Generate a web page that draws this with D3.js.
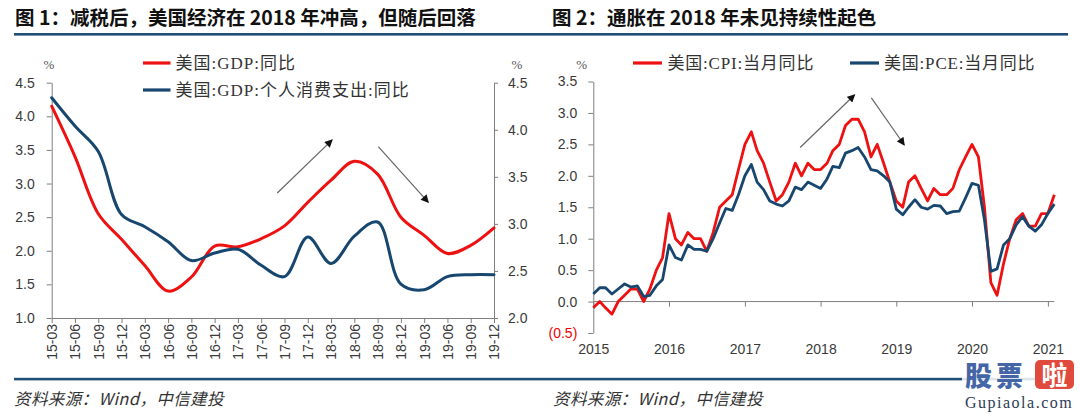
<!DOCTYPE html>
<html><head><meta charset="utf-8">
<script src="https://cdn.jsdelivr.net/npm/d3@7"></script>
<style>
html,body{margin:0;padding:0;background:#fff;}
svg{display:block;}
</style></head><body>
<svg id="c" width="1080" height="415"></svg>
<script>
// ---------- data ----------
const quarterLabels = ["15-03","15-06","15-09","15-12","16-03","16-06","16-09","16-12","17-03","17-06","17-09","17-12","18-03","18-06","18-09","18-12","19-03","19-06","19-09","19-12"];
const gdpYoY    = [4.15,3.40,2.55,2.17,1.78,1.40,1.61,2.07,2.06,2.18,2.37,2.72,3.05,3.33,3.14,2.50,2.23,1.96,2.08,2.34];
const pceGdpYoY = [4.34,4.04,3.77,3.10,2.97,2.81,2.61,2.69,2.73,2.56,2.44,2.86,2.58,2.87,3.02,2.36,2.30,2.44,2.46,2.46];
const leftTicksL = [1.0,1.5,2.0,2.5,3.0,3.5,4.0,4.5];
const leftTicksR = [2.0,2.5,3.0,3.5,4.0,4.5];

const cpiYoY = [-0.1,0.0,-0.1,-0.2,0.0,0.1,0.2,0.2,0.0,0.2,0.5,0.7,
  1.4,1.0,0.9,1.1,1.0,1.0,0.8,1.1,1.5,1.6,1.7,2.1,
  2.5,2.7,2.4,2.2,1.9,1.6,1.7,1.9,2.2,2.0,2.2,2.1,
  2.1,2.2,2.4,2.5,2.8,2.9,2.9,2.7,2.3,2.5,2.2,1.9,
  1.6,1.5,1.9,2.0,1.8,1.6,1.8,1.7,1.7,1.8,2.1,2.3,
  2.5,2.3,1.5,0.3,0.1,0.6,1.0,1.3,1.4,1.2,1.2,1.4,
  1.4,1.7];
const pceYoY = [0.12,0.22,0.22,0.12,0.20,0.28,0.23,0.25,0.08,0.10,0.25,0.35,
  0.90,0.70,0.66,0.90,0.83,0.83,0.80,1.00,1.25,1.48,1.45,1.70,
  2.00,2.18,1.90,1.78,1.60,1.55,1.52,1.60,1.82,1.78,1.90,1.85,
  1.80,1.95,2.15,2.13,2.36,2.40,2.45,2.30,2.10,2.08,2.00,1.90,
  1.47,1.38,1.50,1.62,1.50,1.47,1.53,1.52,1.40,1.43,1.44,1.65,
  1.88,1.85,1.30,0.48,0.52,0.90,1.00,1.22,1.35,1.20,1.12,1.22,
  1.40,1.55];
const yearLabels = [2015,2016,2017,2018,2019,2020,2021];
const rightTicks = [-0.5,0.0,0.5,1.0,1.5,2.0,2.5,3.0,3.5];

// arrows in data space: [x0,y0,x1,y1]
const leftArrows  = [[9.69,2.86,12.05,3.65],[14.03,3.55,16.18,2.72]];
const rightArrows = [[2017.73,2.45,2018.45,3.29],[2018.67,3.24,2019.105,2.49]];

// ---------- style ----------
const RED = "#ee1111", BLUE = "#17466e", RULE = "#1f4e79";
const AXIS = "#7f7f7f", LABEL = "#3a3a3a";
const SANS = "'Liberation Sans', Arial, sans-serif";
const CJK = "'Noto Sans CJK SC', 'Noto Sans', sans-serif";
const LEG = "'Liberation Serif', 'Noto Sans CJK SC', serif";

const svg = d3.select("#c");

// titles & rules
svg.append("text").attr("x",15).attr("y",25).text("图 1：减税后，美国经济在 2018 年冲高，但随后回落")
  .attr("font-family",CJK).attr("font-weight",700).attr("font-size",19.5).attr("fill","#111");
svg.append("text").attr("x",552).attr("y",25).text("图 2：通胀在 2018 年未见持续性起色")
  .attr("font-family",CJK).attr("font-weight",700).attr("font-size",19.5).attr("fill","#111");
svg.append("rect").attr("x",14).attr("y",33).attr("width",1054).attr("height",2.6).attr("fill",RULE);
svg.append("rect").attr("x",14).attr("y",377.8).attr("width",1054).attr("height",2.6).attr("fill",RULE);
[14,553].forEach(x=>{
  svg.append("text").attr("x",x).attr("y",405).text("资料来源：Wind，中信建投")
    .attr("font-family",CJK).attr("font-style","italic").attr("font-size",16.5).attr("letter-spacing",0.4).attr("fill","#333");
});

function styleAxis(g){
  g.select(".domain").attr("stroke",AXIS);
  g.selectAll(".tick line").attr("stroke",AXIS);
  g.selectAll("text").attr("fill",LABEL).attr("font-family",SANS).attr("font-size",14);
}

// marker
const defs = svg.append("defs");
defs.append("marker").attr("id","ah").attr("viewBox","0 0 10 10").attr("refX",9).attr("refY",5)
  .attr("markerWidth",9).attr("markerHeight",8).attr("markerUnits","userSpaceOnUse").attr("orient","auto")
  .append("path").attr("d","M0,0 L10,5 L0,10 Z").attr("fill","#111");

// ---------- left chart ----------
const xL = d3.scalePoint().domain(quarterLabels).range([51.7,494]);
const xLi = d3.scaleLinear().domain([0,quarterLabels.length-1]).range(xL.range());
const yL = d3.scaleLinear().domain([1,4.5]).range([318,82.7]);
const yR = d3.scaleLinear().domain([2,4.5]).range([318,82.7]);

const gxL = svg.append("g").attr("transform",`translate(0,${yL(1)})`)
  .call(d3.axisBottom(xL).tickSize(5).tickSizeOuter(0));
styleAxis(gxL);
gxL.selectAll("text").attr("transform","rotate(-90)").attr("text-anchor","end")
  .attr("x",-6).attr("y",0).attr("dy","0.35em");

const gyL = svg.append("g").attr("transform",`translate(${xL.range()[0]},0)`)
  .call(d3.axisLeft(yL).tickValues(leftTicksL).tickFormat(d3.format(".1f")).tickSize(5).tickPadding(12).tickSizeOuter(0));
styleAxis(gyL);
const gyR = svg.append("g").attr("transform",`translate(${xL.range()[1]},0)`)
  .call(d3.axisRight(yR).tickValues(leftTicksR).tickFormat(d3.format(".1f")).tickSize(4).tickPadding(10).tickSizeOuter(0));
styleAxis(gyR);

svg.append("text").attr("x",49).attr("y",69).attr("text-anchor","middle").text("%")
  .attr("font-family",LEG).attr("font-size",13).attr("fill","#555");
svg.append("text").attr("x",517).attr("y",69).attr("text-anchor","middle").text("%")
  .attr("font-family",LEG).attr("font-size",13).attr("fill","#555");

const lineL = d3.line().x((d,i)=>xLi(i)).y(d=>yL(d)).curve(d3.curveCatmullRom.alpha(0.5));
const lineR = d3.line().x((d,i)=>xLi(i)).y(d=>yR(d)).curve(d3.curveCatmullRom.alpha(0.5));
svg.append("path").attr("d",lineL(gdpYoY)).attr("fill","none").attr("stroke",RED).attr("stroke-width",3).attr("stroke-linecap","round");
svg.append("path").attr("d",lineR(pceGdpYoY)).attr("fill","none").attr("stroke",BLUE).attr("stroke-width",3).attr("stroke-linecap","round");

leftArrows.forEach(a=>{
  svg.append("line").attr("x1",xLi(a[0])).attr("y1",yL(a[1])).attr("x2",xLi(a[2])).attr("y2",yL(a[3]))
    .attr("stroke","#666").attr("stroke-width",1.2).attr("marker-end","url(#ah)");
});

// legend left
[[RED,"美国:GDP:同比",63],[BLUE,"美国:GDP:个人消费支出:同比",90]].forEach(([c,t,y])=>{
  svg.append("line").attr("x1",143).attr("x2",170.5).attr("y1",y).attr("y2",y).attr("stroke",c).attr("stroke-width",3.2);
  svg.append("text").attr("x",175.5).attr("y",y).attr("dy","0.35em").text(t)
    .attr("font-family",LEG).attr("font-size",17).attr("letter-spacing",1).attr("fill","#333");
});

// ---------- right chart ----------
const xR = d3.scaleTime().domain([new Date(2015,0,1),new Date(2021,0,1)]).range([593.3,1047.9]);
const xRy = d3.scaleLinear().domain([2015,2021]).range(xR.range());
const yC = d3.scaleLinear().domain([-0.5,3.5]).range([333,81.5]);
const monthDate = i => new Date(2015, i, 1);

const fmtR = d => d < 0 ? `(${d3.format(".1f")(-d)})` : d3.format(".1f")(d);
const gyC = svg.append("g").attr("transform",`translate(${xR.range()[0]},0)`)
  .call(d3.axisLeft(yC).tickValues(rightTicks).tickFormat(fmtR).tickSize(5).tickPadding(11).tickSizeOuter(0));
styleAxis(gyC);
gyC.selectAll(".tick text").filter(d=>d<0).attr("fill","#e00");

const yearDates = yearLabels.map(y=>new Date(y,0,1));
const gx0 = svg.append("g").attr("transform",`translate(0,${yC(0)})`)
  .call(d3.axisBottom(xR).tickValues(yearDates).tickFormat("").tickSize(5).tickSizeOuter(0));
styleAxis(gx0);
gx0.select(".domain").remove();
gx0.append("line").attr("x1",xR.range()[0]).attr("x2",xR(monthDate(cpiYoY.length-1))).attr("y1",0).attr("y2",0).attr("stroke",AXIS);
const gxY = svg.append("g").attr("transform",`translate(0,${yC(-0.5)})`)
  .call(d3.axisBottom(xR).tickValues(yearDates).tickFormat((d,i)=>String(yearLabels[i])).tickSize(0).tickPadding(11));
styleAxis(gxY);
gxY.select(".domain").remove();

svg.append("text").attr("x",581.7).attr("y",69).attr("text-anchor","middle").text("%")
  .attr("font-family",LEG).attr("font-size",13).attr("fill","#555");

const lineM = d3.line().x((d,i)=>xR(monthDate(i))).y(d=>yC(d));
svg.append("path").attr("d",lineM(cpiYoY)).attr("fill","none").attr("stroke",RED).attr("stroke-width",2.8).attr("stroke-linejoin","round");
svg.append("path").attr("d",lineM(pceYoY)).attr("fill","none").attr("stroke",BLUE).attr("stroke-width",2.8).attr("stroke-linejoin","round");

rightArrows.forEach(a=>{
  svg.append("line").attr("x1",xRy(a[0])).attr("y1",yC(a[1])).attr("x2",xRy(a[2])).attr("y2",yC(a[3]))
    .attr("stroke","#666").attr("stroke-width",1.2).attr("marker-end","url(#ah)");
});

[[RED,"美国:CPI:当月同比",633,667.5],[BLUE,"美国:PCE:当月同比",850,884]].forEach(([c,t,x,tx])=>{
  svg.append("line").attr("x1",x).attr("x2",x+29).attr("y1",63).attr("y2",63).attr("stroke",c).attr("stroke-width",3.2);
  svg.append("text").attr("x",tx).attr("y",63).attr("dy","0.35em").text(t)
    .attr("font-family",LEG).attr("font-size",17).attr("letter-spacing",0.8).attr("fill","#333");
});

// ---------- watermark ----------
const wm = svg.append("g");
wm.append("rect").attr("x",962).attr("y",360).attr("width",118).attr("height",55).attr("fill","#fff").attr("opacity",0.85);
wm.append("text").attr("x",965).attr("y",386).text("股票").attr("font-family",CJK).attr("font-weight",900)
  .attr("font-size",27).attr("letter-spacing",4).attr("fill","#4566a6");
wm.append("rect").attr("x",1035).attr("y",360).attr("width",39).attr("height",29).attr("rx",5).attr("fill","#e04a3c");
wm.append("text").attr("x",1054.5).attr("y",385).attr("text-anchor","middle").text("啦").attr("font-family",CJK)
  .attr("font-weight",700).attr("font-size",26).attr("fill","#fff");
wm.append("text").attr("x",965).attr("y",408).text("Gupiaola.com").attr("font-family","'Liberation Serif', serif")
  .attr("font-size",16).attr("letter-spacing",1.5).attr("fill","#2d3b55");
</script>
</body></html>
